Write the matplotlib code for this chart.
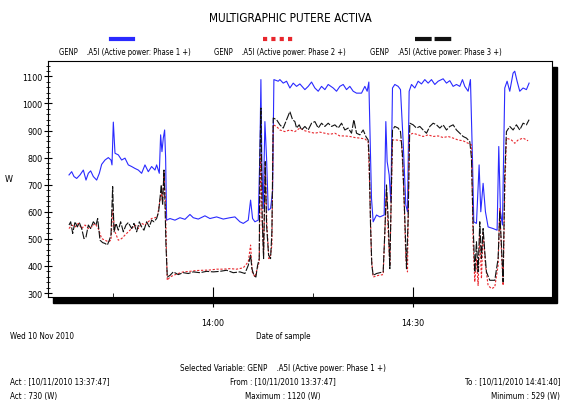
import matplotlib
matplotlib.use("Agg")
import matplotlib.pyplot as plt
import numpy as np
from matplotlib.lines import Line2D
from matplotlib.patches import Rectangle
from matplotlib.ticker import MultipleLocator, FixedLocator

# time is minutes after 13:00, values in W
phase1 = [
    (38.40, 736), (38.80, 748), (39.15, 730), (39.55, 723), (40.05, 736), (40.55, 754),
    (40.95, 717), (41.30, 742), (41.65, 751), (42.05, 730), (42.55, 717), (42.95, 742),
    (43.30, 775), (43.80, 791), (44.30, 800), (44.70, 791), (44.85, 773), (45.05, 931),
    (45.30, 816), (45.80, 810), (46.30, 791), (46.80, 798), (47.30, 773), (47.80, 767),
    (48.30, 760), (48.80, 754), (49.30, 742), (49.80, 773), (50.30, 748), (50.80, 767),
    (51.30, 754), (51.55, 773), (51.95, 742), (52.15, 884), (52.35, 822), (52.55, 872),
    (52.75, 902), (52.90, 798), (53.05, 569), (53.55, 575), (54.30, 569), (55.05, 578),
    (55.80, 572), (56.55, 590), (57.05, 578), (57.80, 573), (58.80, 585), (59.55, 575),
    (60.55, 581), (61.55, 573), (62.55, 578), (63.30, 581), (64.05, 563), (64.55, 557),
    (65.30, 569), (65.65, 643), (65.95, 575), (66.30, 563), (66.80, 569), (67.05, 822),
    (67.20, 1088), (67.35, 760), (67.55, 612), (67.80, 933), (68.05, 798), (68.30, 606),
    (68.65, 612), (68.95, 674), (69.15, 1088), (69.80, 1082),
    (70.05, 1088), (70.55, 1075), (71.05, 1082), (71.55, 1057), (72.05, 1075), (72.55, 1063),
    (73.05, 1072), (73.80, 1051), (74.30, 1063), (74.80, 1079), (75.30, 1057), (75.80, 1045),
    (76.30, 1063), (76.80, 1051), (77.30, 1070), (78.05, 1057), (78.55, 1045), (79.05, 1063),
    (79.55, 1070), (80.05, 1051), (80.55, 1063), (81.05, 1045), (81.55, 1038), (82.30, 1038),
    (82.80, 1063), (83.15, 1045), (83.40, 1079), (83.55, 921), (83.80, 649), (84.05, 563),
    (84.55, 588), (85.05, 581), (85.70, 588), (85.95, 933), (86.15, 785), (86.45, 736),
    (86.70, 637), (86.95, 1057), (87.30, 1070), (87.80, 1063), (88.15, 1051), (88.55, 859),
    (88.95, 625), (89.20, 600), (89.45, 1045), (89.80, 1070), (90.30, 1057), (90.80, 1082),
    (91.30, 1072), (91.80, 1088), (92.30, 1075), (92.80, 1088), (93.30, 1070), (93.80, 1082),
    (94.55, 1091), (95.05, 1075), (95.55, 1084), (96.05, 1063), (96.55, 1070), (97.05, 1063),
    (97.45, 1088), (97.80, 1063), (98.30, 1045), (98.65, 1088), (98.95, 798), (99.15, 563),
    (99.55, 557), (99.95, 773), (100.20, 600), (100.55, 705), (100.90, 600), (101.30, 544),
    (102.05, 538), (102.65, 532), (102.90, 841), (103.15, 600), (103.45, 551), (103.80, 1057),
    (104.15, 1082), (104.55, 1045), (105.05, 1112), (105.30, 1119), (105.65, 1082),
    (106.05, 1045), (106.55, 1057), (107.05, 1051), (107.45, 1075),
]

phase2 = [
    (38.40, 538), (38.80, 551), (39.30, 544), (39.80, 557), (40.30, 538), (40.80, 551),
    (41.30, 538), (41.80, 544), (42.30, 557), (42.80, 538), (43.30, 501), (43.80, 495),
    (44.30, 489), (44.70, 495), (44.95, 606), (45.30, 526), (45.80, 495), (46.30, 501),
    (46.80, 514), (47.30, 526), (47.80, 538), (48.30, 551), (48.80, 538), (49.30, 557),
    (49.80, 551), (50.30, 563), (50.80, 575), (51.30, 578), (51.65, 581), (51.95, 625),
    (52.25, 674), (52.45, 637), (52.65, 748), (52.85, 649), (53.05, 427), (53.15, 347),
    (53.55, 359), (54.05, 365), (54.80, 372), (55.55, 378), (56.55, 380), (57.55, 383),
    (58.55, 384), (59.55, 385), (60.55, 388), (61.55, 388), (62.55, 390), (63.55, 388),
    (64.55, 393), (65.30, 415), (65.65, 477), (65.90, 378), (66.30, 359), (66.65, 390),
    (66.95, 415), (67.15, 810), (67.35, 588), (67.60, 440), (67.85, 773), (68.10, 551),
    (68.40, 427), (68.65, 440), (68.85, 477), (69.05, 921), (69.55, 915),
    (70.05, 902), (70.80, 896), (71.55, 902), (72.30, 896), (73.05, 909), (73.80, 899),
    (74.55, 894), (75.30, 890), (76.05, 894), (76.80, 890), (77.55, 886), (78.30, 890),
    (79.05, 880), (79.80, 880), (80.55, 878), (81.30, 874), (82.05, 872), (82.80, 869),
    (83.30, 859), (83.55, 674), (83.80, 427), (84.05, 359), (84.80, 365), (85.55, 368),
    (85.85, 551), (86.05, 674), (86.30, 526), (86.55, 402), (86.95, 865), (87.55, 865),
    (88.30, 862), (88.65, 674), (88.95, 427), (89.20, 378), (89.45, 884), (90.05, 890),
    (90.80, 884), (91.55, 878), (92.30, 884), (93.05, 878), (93.80, 880), (94.55, 874),
    (95.30, 878), (96.05, 872), (96.80, 865), (97.55, 862), (98.30, 853), (98.80, 847),
    (99.05, 489), (99.30, 341), (99.55, 427), (99.80, 328), (100.05, 514), (100.30, 353),
    (100.55, 526), (100.90, 402), (101.30, 328), (101.80, 316), (102.30, 322), (102.80, 402),
    (103.05, 612), (103.30, 452), (103.55, 328), (103.80, 674), (104.05, 872), (104.80, 865),
    (105.30, 853), (105.80, 865), (106.55, 872), (107.30, 862),
]

phase3 = [
    (38.40, 551), (38.65, 563), (38.95, 520), (39.30, 563), (39.65, 544), (39.95, 560),
    (40.30, 538), (40.65, 501), (40.95, 507), (41.30, 551), (41.65, 538), (42.05, 563),
    (42.45, 551), (42.70, 575), (43.05, 495), (43.45, 486), (43.80, 483), (44.15, 477),
    (44.45, 495), (44.70, 514), (44.95, 693), (45.15, 526), (45.45, 557), (45.80, 532),
    (46.15, 563), (46.55, 526), (46.95, 551), (47.30, 560), (47.80, 538), (48.15, 557),
    (48.55, 526), (48.95, 563), (49.30, 544), (49.65, 532), (50.05, 563), (50.45, 544),
    (50.80, 569), (51.15, 563), (51.55, 575), (51.85, 600), (52.05, 649), (52.25, 699),
    (52.45, 625), (52.65, 754), (52.80, 637), (52.95, 477), (53.15, 359), (53.55, 365),
    (54.05, 378), (54.80, 368), (55.55, 375), (56.30, 372), (57.05, 378), (58.05, 375),
    (59.05, 380), (60.05, 378), (61.05, 380), (62.05, 384), (63.05, 375), (64.05, 378),
    (64.80, 372), (65.30, 402), (65.65, 440), (65.85, 390), (66.15, 365), (66.45, 359),
    (66.70, 402), (66.95, 427), (67.05, 810), (67.20, 983), (67.40, 575), (67.60, 427),
    (67.85, 785), (68.05, 551), (68.35, 440), (68.65, 427), (68.85, 526), (69.05, 946),
    (69.55, 940),
    (70.05, 921), (70.55, 909), (71.05, 940), (71.55, 970), (71.95, 940), (72.30, 933),
    (72.55, 909), (72.95, 921), (73.30, 902), (73.80, 915), (74.30, 902), (74.80, 927),
    (75.30, 933), (75.80, 909), (76.30, 927), (76.80, 915), (77.30, 927), (77.80, 915),
    (78.30, 921), (78.80, 909), (79.30, 927), (79.80, 902), (80.30, 909), (80.80, 890),
    (81.15, 940), (81.55, 890), (82.05, 884), (82.55, 902), (82.95, 878), (83.30, 865),
    (83.45, 798), (83.65, 551), (83.85, 402), (84.05, 365), (84.55, 372), (85.05, 375),
    (85.55, 378), (85.80, 526), (86.05, 699), (86.30, 575), (86.55, 390), (86.95, 902),
    (87.30, 915), (87.80, 909), (88.15, 896), (88.45, 810), (88.80, 575), (89.05, 390),
    (89.30, 575), (89.55, 927), (90.05, 921), (90.55, 909), (91.05, 915), (91.55, 902),
    (92.05, 890), (92.55, 915), (93.05, 927), (93.55, 921), (94.05, 909), (94.55, 921),
    (95.05, 902), (95.55, 915), (96.05, 921), (96.55, 902), (97.05, 890), (97.55, 878),
    (98.05, 872), (98.55, 859), (98.80, 798), (99.05, 551), (99.30, 378), (99.55, 489),
    (99.80, 378), (100.05, 563), (100.30, 427), (100.55, 538), (100.80, 452), (101.05, 378),
    (101.55, 347), (102.30, 347), (102.80, 427), (103.05, 600), (103.30, 477), (103.55, 341),
    (103.80, 736), (104.05, 896), (104.55, 915), (105.05, 902), (105.55, 921), (106.05, 902),
    (106.55, 927), (107.05, 921), (107.45, 940),
]

labels = ["GENP    .A5I (Active power: Phase 1 +)",
          "GENP    .A5I (Active power: Phase 2 +)",
          "GENP    .A5I (Active power: Phase 3 +)"]
colors = ["#2a2aff", "#e8262c", "#111111"]
styles = ["-", (0, (2, 1.5)), (0, (7, 1.5))]
legend_styles = ["-", (0, (1, 1)), (0, (4, 0.7))]

plt.rcParams["font.family"] = ["DejaVu Sans"]
plt.rcParams["font.stretch"] = "condensed"

fig = plt.figure(figsize=(5.63, 4.10), dpi=100)
ax = fig.add_axes([0.0853, 0.273, 0.8947, 0.576])

# drop shadow behind the plot frame
fig.add_artist(Rectangle((0.0853 + 5 / 563, 0.273 - 6 / 410), 0.8947, 0.576,
                         transform=fig.transFigure, color="black", zorder=0))
ax.set_zorder(1)

for data, col, ls in zip([phase1, phase2, phase3], colors, styles):
    t, v = np.array(data).T
    ax.plot(t, v, color=col, linestyle=ls, linewidth=0.8)

ax.set_xlim(35.25, 110.85)
ax.set_ylim(285, 1157)
ax.xaxis.set_major_locator(FixedLocator([60, 90]))
ax.set_xticklabels(["14:00", "14:30"])
ax.xaxis.set_minor_locator(FixedLocator([45, 75]))
ax.yaxis.set_major_locator(MultipleLocator(100))
ax.yaxis.set_minor_locator(MultipleLocator(20))
ax.tick_params(axis="x", which="major", direction="inout", length=14, labelsize=6.5, pad=8)
ax.tick_params(axis="x", which="minor", direction="in", length=3)
ax.tick_params(axis="y", which="major", direction="inout", length=6, labelsize=6.5, pad=1)
ax.tick_params(axis="y", which="minor", direction="inout", length=3)
for s in ax.spines.values():
    s.set_linewidth(0.8)
ax.set_ylabel("W", fontsize=6.5, rotation=0, labelpad=10, va="center")

fig.text(0.515, 0.955, "MULTIGRAPHIC PUTERE ACTIVA", ha="center", va="center", fontsize=8.5)

# legend above the plot
for cx, w, col, ls, lab in zip([0.217, 0.494, 0.771], [0.039, 0.052, 0.066],
                               colors, legend_styles, labels):
    fig.add_artist(Line2D([cx - w / 2, cx + w / 2], [0.902, 0.902], color=col,
                          linestyle=ls, linewidth=3, transform=fig.transFigure))
    fig.text(cx + 0.004, 0.871, lab, ha="center", va="center", fontsize=5.5)

fs = 5.8
fig.text(0.018, 0.18, "Wed 10 Nov 2010", ha="left", va="center", fontsize=fs)
fig.text(0.503, 0.18, "Date of sample", ha="center", va="center", fontsize=fs)
fig.text(0.503, 0.102, "Selected Variable: GENP    .A5I (Active power: Phase 1 +)",
         ha="center", va="center", fontsize=fs)
fig.text(0.018, 0.068, "Act : [10/11/2010 13:37:47]", ha="left", va="center", fontsize=fs)
fig.text(0.503, 0.068, "From : [10/11/2010 13:37:47]", ha="center", va="center", fontsize=fs)
fig.text(0.995, 0.068, "To : [10/11/2010 14:41:40]", ha="right", va="center", fontsize=fs)
fig.text(0.018, 0.032, "Act : 730 (W)", ha="left", va="center", fontsize=fs)
fig.text(0.503, 0.032, "Maximum : 1120 (W)", ha="center", va="center", fontsize=fs)
fig.text(0.995, 0.032, "Minimum : 529 (W)", ha="right", va="center", fontsize=fs)

fig.savefig("out.png", dpi=100)
